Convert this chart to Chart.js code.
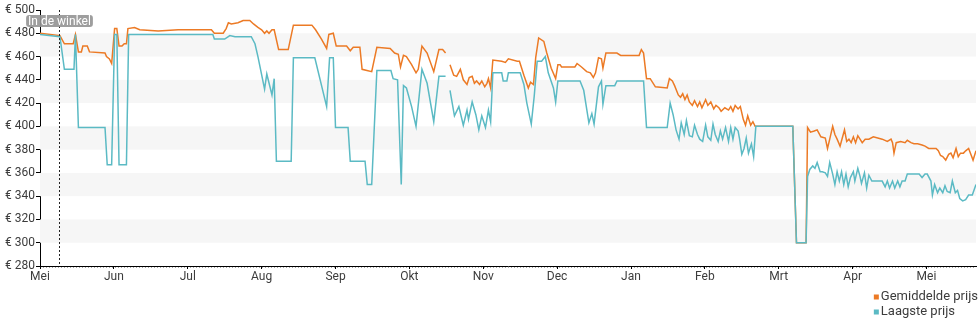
<!DOCTYPE html>
<html>
<head>
<meta charset="utf-8">
<script src="https://cdn.jsdelivr.net/npm/chart.js@4/dist/chart.umd.min.js"></script>
<style>
  html, body { margin: 0; padding: 0; background: #fff; }
  #wrap { width: 980px; height: 325px; position: relative; }
</style>
</head>
<body>
<div id="wrap"><canvas id="c" width="980" height="325"></canvas></div>
<script>
// Month names along the time axis (one tick per month)
const monthLabels = ['Mei', 'Jun', 'Jul', 'Aug', 'Sep', 'Okt', 'Nov', 'Dec', 'Jan', 'Feb', 'Mrt', 'Apr', 'Mei'];
// Price axis ticks in euro
const priceTicks = [280, 300, 320, 340, 360, 380, 400, 420, 440, 460, 480, 500];
// Moment the product became available in stores (months since start)
const inStoreMonth = 0.26;
const inStoreLabel = 'In de winkel';

// Average price (months since start / euro); null marks a gap in the data
const avgMonth = [
  0, 0.27, 0.33, 0.45, 0.48, 0.52, 0.56, 0.58, 0.64, 0.67, 0.88, 0.90, 0.94, 0.97,
  1.01, 1.04, 1.07, 1.11, 1.14, 1.17, 1.19, 1.28, 1.35, 1.60, 1.87, 2.32, 2.36, 2.48,
  2.52, 2.55, 2.59, 2.68, 2.75, 2.84, 2.89, 2.95, 3.00, 3.04, 3.07, 3.10, 3.14, 3.17,
  3.23, 3.36, 3.43, 3.68, 3.73, 3.81, 3.88, 3.91, 3.97, 4.01, 4.15, 4.20, 4.24, 4.33,
  4.36, 4.49, 4.56, 4.74, 4.80, 4.85, 4.88, 4.92, 4.96, 5.03, 5.09, 5.12, 5.17, 5.24,
  5.33, 5.40, 5.45, 5.49, 5.52, 5.55, 5.60, 5.64, 5.69, 5.73, 5.78, 5.81, 5.85, 5.88,
  5.91, 5.95, 5.98, 6.02, 6.05, 6.07, 6.10, 6.13, 6.25, 6.30, 6.34, 6.46, 6.49, 6.55,
  6.61, 6.64, 6.68, 6.71, 6.75, 6.82, 6.86, 6.92, 6.98, 7.01, 7.04, 7.06, 7.24, 7.27,
  7.33, 7.40, 7.45, 7.49, 7.52, 7.56, 7.60, 7.62, 7.66, 7.81, 7.86, 8.11, 8.14, 8.17,
  8.21, 8.26, 8.33, 8.49, 8.52, 8.56, 8.59, 8.64, 8.67, 8.70, 8.73, 8.76, 8.79, 8.83,
  8.86, 8.90, 8.93, 8.96, 9.01, 9.04, 9.08, 9.12, 9.15, 9.19, 9.22, 9.27, 9.32, 9.35,
  9.38, 9.41, 9.45, 9.48, 9.52, 9.55, 9.58, 9.62, 9.65, 9.68, 10.19, 10.24, 10.37, 10.39,
  10.43, 10.48, 10.52, 10.57, 10.63, 10.66, 10.69, 10.73, 10.76, 10.79, 10.83, 10.86, 10.89, 10.92,
  10.95, 10.98, 11.01, 11.04, 11.07, 11.10, 11.13, 11.17, 11.22, 11.28, 11.34, 11.40, 11.47, 11.52,
  11.54, 11.56, 11.59, 11.65, 11.71, 11.74, 11.79, 11.83, 11.88, 11.94, 11.98, 12.03, 12.08, 12.13,
  12.16, 12.19, 12.22, 12.26, 12.30, 12.33, 12.36, 12.40, 12.43, 12.46, 12.50, 12.53, 12.57, 12.60,
  12.63, 12.67
];
const avgPrice = [
  480, 478, 471, 471, 479, 464, 464, 469, 469, 464, 463, 460, 458, 454,
  484, 484, 469, 469, 471, 471, 484, 485, 483, 482, 483, 483, 480, 480,
  484, 489, 488, 489, 491, 491, 488, 485, 483, 480, 482, 480, 483, 483,
  466, 466, 487, 487, 483, 475, 467, 479, 480, 469, 469, 465, 468, 468,
  449, 447, 468, 467, 463, 462, 451, 461, 460, 453, 446, 449, 469, 463,
  447, 466, 466, 463, null, 453, 444, 443, 449, 440, 436, 442, 443, 437,
  439, 436, 439, 434, 437, 441, 433, 457, 456, 455, 458, 456, 456, 444,
  433, 438, 436, 459, 476, 473, 463, 450, 441, 453, 453, 451, 451, 454,
  451, 447, 446, 442, 446, 459, 458, 450, 463, 463, 461, 461, 466, 463,
  441, 441, 434, 433, 441, 439, 435, 427, 425, 428, 423, 427, 421, 418,
  422, 417, 421, 416, 423, 418, 421, 415, 418, 416, 413, 416, 414, 417,
  413, 418, 415, 417, 406, 401, 409, 401, 404, 400, 400, 300, 300, 399,
  395, 396, 397, 391, 390, 381, 389, 400, 393, 389, 383, 390, 397, 387,
  389, 386, 391, 386, 392, 389, 386, 389, 389, 391, 390, 389, 387, 389,
  386, 377, 386, 387, 386, 388, 386, 385, 385, 384, 383, 381, 381, 381,
  379, 375, 374, 371, 376, 377, 373, 381, 374, 377, 377, 379, 381, 376,
  371, 379
];

// Lowest price (months since start / euro); null marks a gap in the data
const lowMonth = [
  0, 0.27, 0.33, 0.46, 0.48, 0.52, 0.88, 0.91, 0.97, 1.01, 1.04, 1.07, 1.17, 1.20,
  2.34, 2.36, 2.50, 2.57, 2.64, 2.86, 2.91, 2.95, 3.04, 3.07, 3.14, 3.17, 3.20, 3.40,
  3.43, 3.72, 3.88, 3.92, 3.97, 4.00, 4.17, 4.20, 4.40, 4.43, 4.49, 4.56, 4.75, 4.78,
  4.84, 4.89, 4.92, 4.96, 5.03, 5.09, 5.17, 5.24, 5.33, 5.40, 5.49, 5.52, 5.55, 5.61,
  5.67, 5.73, 5.78, 5.80, 5.85, 5.90, 5.94, 5.98, 6.03, 6.07, 6.10, 6.13, 6.25, 6.27,
  6.32, 6.34, 6.50, 6.55, 6.59, 6.65, 6.69, 6.73, 6.79, 6.84, 6.88, 6.95, 6.98, 7.01,
  7.31, 7.36, 7.43, 7.47, 7.50, 7.56, 7.60, 7.62, 7.66, 7.78, 7.81, 8.17, 8.21, 8.49,
  8.53, 8.57, 8.61, 8.65, 8.68, 8.72, 8.75, 8.79, 8.83, 8.86, 8.90, 8.93, 8.97, 9.01,
  9.04, 9.08, 9.11, 9.14, 9.18, 9.21, 9.24, 9.28, 9.32, 9.35, 9.38, 9.41, 9.45, 9.47,
  9.50, 9.53, 9.56, 9.59, 9.63, 9.66, 9.69, 10.19, 10.24, 10.37, 10.39, 10.42, 10.46, 10.49,
  10.52, 10.56, 10.59, 10.63, 10.66, 10.69, 10.73, 10.76, 10.79, 10.82, 10.85, 10.88, 10.91, 10.94,
  10.97, 11.01, 11.03, 11.07, 11.10, 11.12, 11.16, 11.19, 11.22, 11.26, 11.40, 11.44, 11.47, 11.50,
  11.54, 11.57, 11.61, 11.64, 11.67, 11.71, 11.74, 11.90, 11.94, 11.98, 12.01, 12.06, 12.08, 12.11,
  12.15, 12.18, 12.22, 12.25, 12.28, 12.32, 12.35, 12.39, 12.42, 12.45, 12.49, 12.53, 12.57, 12.62,
  12.67
];
const lowPrice = [
  479, 477, 449, 449, 479, 399, 399, 367, 367, 479, 479, 367, 367, 479,
  479, 475, 475, 478, 477, 477, 471, 460, 432, 445, 427, 441, 370, 370,
  459, 459, 417, 459, 459, 399, 399, 370, 370, 350, 350, 448, 448, 441,
  440, 350, 435, 433, 417, 400, 449, 437, 404, 443, 443, null, 431, 409,
  417, 401, 414, 406, 421, 410, 397, 409, 399, 414, 404, 446, 446, 439,
  439, 446, 446, 436, 420, 402, 426, 456, 456, 460, 446, 433, 421, 439,
  439, 431, 403, 411, 402, 434, 439, 419, 435, 435, 439, 439, 399, 399,
  420, 410, 397, 389, 403, 393, 405, 392, 391, 401, 393, 389, 387, 401,
  391, 388, 402, 393, 387, 396, 389, 399, 387, 399, 389, 399, 396, 389,
  376, 381, 390, 377, 385, 374, 400, 400, 300, 300, 357, 363, 366, 364,
  369, 361, 361, 360, 357, 369, 359, 350, 361, 353, 361, 350, 359, 348,
  356, 361, 353, 364, 357, 351, 360, 347, 358, 353, 353, 348, 353, 347,
  353, 347, 353, 348, 353, 353, 359, 359, 356, 359, 359, 353, 341, 350,
  343, 347, 343, 349, 344, 343, 353, 343, 345, 338, 336, 337, 341, 341,
  350
];

const AVG_COLOR = '#ec7a25';
const LOW_COLOR = '#5bbac4';
const TEXT_COLOR = '#3c3c3c';
const FONT = 'Roboto, "Noto Sans", sans-serif';

const toPoints = (xs, ys) => xs.map((x, i) => ({ x: x, y: ys[i] }));

// Alternating light bands between every other pair of price ticks
const bandPlugin = {
  id: 'priceBands',
  beforeDatasetsDraw(chart) {
    const { ctx, chartArea } = chart;
    const y = chart.scales.y;
    ctx.save();
    ctx.fillStyle = '#f6f6f6';
    for (let i = 1; i < priceTicks.length - 1; i += 2) {
      const top = y.getPixelForValue(priceTicks[i + 1]);
      const bottom = y.getPixelForValue(priceTicks[i]);
      ctx.fillRect(chartArea.left, top, chartArea.right - chartArea.left, bottom - top);
    }
    ctx.restore();
  },
  // fine dotted rule just under the time axis
  afterDraw(chart) {
    const { ctx, chartArea } = chart;
    const yy = Math.round(chartArea.bottom) + 1.5;
    ctx.save();
    ctx.strokeStyle = 'rgba(0,0,0,0.35)';
    ctx.lineWidth = 1;
    ctx.setLineDash([1, 2]);
    ctx.beginPath();
    ctx.moveTo(chartArea.left, yy);
    ctx.lineTo(chartArea.right, yy);
    ctx.stroke();
    ctx.restore();
  }
};

// Dotted marker with a tag for the in-store date
const storeMarkerPlugin = {
  id: 'storeMarker',
  afterDatasetsDraw(chart) {
    const { ctx, chartArea } = chart;
    const x = Math.round(chart.scales.x.getPixelForValue(inStoreMonth)) + 0.5;
    ctx.save();
    ctx.strokeStyle = '#222';
    ctx.lineWidth = 1;
    ctx.setLineDash([2, 2]);
    ctx.beginPath();
    ctx.moveTo(x, chartArea.top);
    ctx.lineTo(x, chartArea.bottom);
    ctx.stroke();
    ctx.setLineDash([]);
    ctx.font = '12px ' + FONT;
    const w = ctx.measureText(inStoreLabel).width + 4;
    const h = 12;
    const bx = x - w / 2;
    const by = chartArea.top + 5;
    ctx.fillStyle = 'rgba(150,150,150,0.92)';
    ctx.beginPath();
    ctx.roundRect(bx, by, w, h, 3);
    ctx.fill();
    ctx.fillStyle = '#fff';
    ctx.textAlign = 'center';
    ctx.textBaseline = 'middle';
    ctx.fillText(inStoreLabel, x, by + h / 2 + 0.5);
    ctx.restore();
  }
};

// Stacked legend in the lower right corner
const stackedLegendPlugin = {
  id: 'stackedLegend',
  afterDraw(chart) {
    const { ctx, chartArea } = chart;
    const sets = chart.data.datasets;
    ctx.save();
    ctx.font = '13px ' + FONT;
    const maxW = Math.max(...sets.map(d => ctx.measureText(d.label).width));
    const textX = chart.width - 2 - maxW;
    const boxX = textX - 7;
    sets.forEach((d, i) => {
      const cy = chartArea.bottom + 31 + i * 15;
      ctx.fillStyle = d.borderColor;
      ctx.fillRect(boxX, cy - 2.5, 5, 5);
      ctx.fillStyle = TEXT_COLOR;
      ctx.textAlign = 'left';
      ctx.textBaseline = 'middle';
      ctx.fillText(d.label, textX, cy);
    });
    ctx.restore();
  }
};

new Chart(document.getElementById('c'), {
  type: 'line',
  data: {
    datasets: [
      {
        label: 'Gemiddelde prijs',
        data: toPoints(avgMonth, avgPrice),
        borderColor: AVG_COLOR,
        backgroundColor: AVG_COLOR,
        borderWidth: 1.5,
        order: 2
      },
      {
        label: 'Laagste prijs',
        data: toPoints(lowMonth, lowPrice),
        borderColor: LOW_COLOR,
        backgroundColor: LOW_COLOR,
        borderWidth: 1.5,
        order: 1
      }
    ]
  },
  options: {
    responsive: false,
    animation: false,
    spanGaps: false,
    elements: {
      point: { radius: 0, hoverRadius: 0 },
      line: { tension: 0 }
    },
    layout: { padding: { top: 10, right: 4, bottom: 39, left: 0 } },
    plugins: {
      legend: { display: false },
      tooltip: { enabled: false }
    },
    scales: {
      x: {
        type: 'linear',
        min: 0,
        max: 12.67,
        afterBuildTicks: s => { s.ticks = monthLabels.map((_, i) => ({ value: i })); },
        afterFit: s => { s.height = 20; },
        grid: { drawOnChartArea: false, drawTicks: true, tickLength: 3, color: '#000' },
        border: { color: '#000', width: 1 },
        ticks: {
          autoSkip: false,
          maxRotation: 0,
          padding: 1,
          color: TEXT_COLOR,
          font: { family: FONT, size: 12 },
          callback: v => monthLabels[v]
        }
      },
      y: {
        min: priceTicks[0],
        max: priceTicks[priceTicks.length - 1],
        afterBuildTicks: s => { s.ticks = priceTicks.map(v => ({ value: v })); },
        afterFit: s => { s.width = 40; },
        grid: { drawOnChartArea: false, drawTicks: true, tickLength: 4, color: '#000' },
        border: { color: '#000', width: 1 },
        ticks: {
          padding: 1,
          color: TEXT_COLOR,
          font: { family: FONT, size: 12 },
          callback: v => '€ ' + v
        }
      }
    }
  },
  plugins: [bandPlugin, storeMarkerPlugin, stackedLegendPlugin]
});
</script>
</body>
</html>
